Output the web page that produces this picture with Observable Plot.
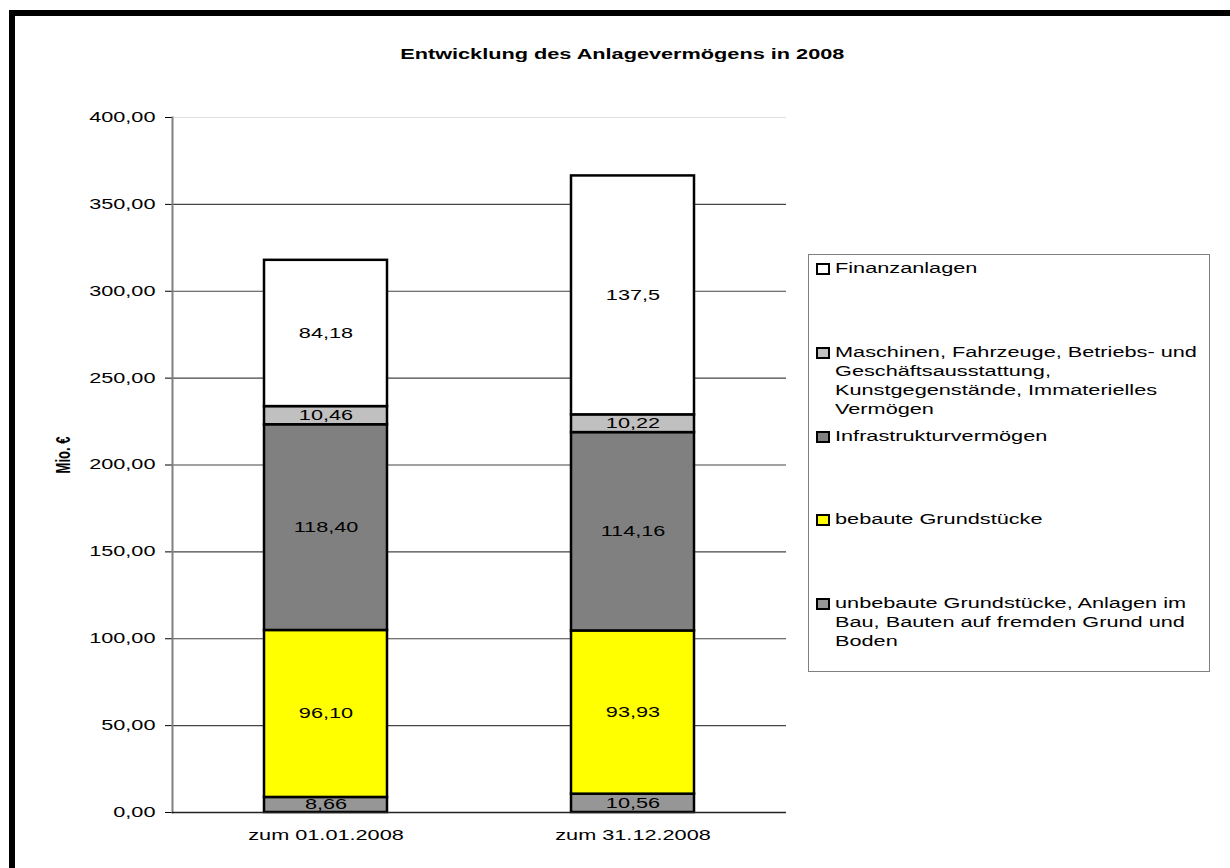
<!DOCTYPE html>
<html>
<head>
<meta charset="utf-8">
<script src="https://cdn.jsdelivr.net/npm/d3@7"></script>
<script src="https://cdn.jsdelivr.net/npm/@observablehq/plot@0.6"></script>
<style>
  html, body { margin: 0; padding: 0; background: #fff; }
  #wrap { position: relative; width: 1230px; height: 868px; overflow: hidden; font-family: "Liberation Sans", Arial, sans-serif; }
  #frame { position: absolute; left: 9px; top: 10px; right: -20px; bottom: -20px; border-left: 6px solid #000; border-top: 6px solid #000; }
  #title { position: absolute; left: 0; width: 1244px; top: 47px; text-align: center; font-size: 14px; line-height: 14px; font-weight: bold; color: #000; }
  #title span { display: inline-block; transform: scaleX(1.55); transform-origin: center; }
  #chart { position: absolute; left: 0; top: 0; }
  #chart g[aria-label="y-axis label"] text { font-weight: bold; font-size: 13px; }
  #legend { position: absolute; left: 808px; top: 254px; width: 402px; height: 418px; border: 1px solid #808080; box-sizing: border-box; padding-top: 4px; font-size: 14px; color: #000; }
  .item { position: relative; height: 83.75px; box-sizing: border-box; }
  .sw { position: absolute; left: 7px; top: 4px; width: 10px; height: 8px; border: 2px solid #000; }
  .txt { position: absolute; left: 26px; top: 0; width: 240px; line-height: 19px; transform: scaleX(1.55); transform-origin: left top; }
</style>
</head>
<body>
<div id="wrap">
  <div id="frame"></div>
  <div id="title"><span></span></div>
  <div id="chart"></div>
  <div id="legend"></div>
</div>
<script>
const title = "Entwicklung des Anlagevermögens in 2008";
const categories = ["zum 01.01.2008", "zum 31.12.2008"];
// series, bottom to top
const series = [
  "unbebaute Grundstücke, Anlagen im Bau, Bauten auf fremden Grund und Boden",
  "bebaute Grundstücke",
  "Infrastrukturvermögen",
  "Maschinen, Fahrzeuge, Betriebs- und Geschäftsausstattung, Kunstgegenstände, Immaterielles Vermögen",
  "Finanzanlagen"
];
const colors = ["#969696", "#FFFF00", "#808080", "#C0C0C0", "#FFFFFF"];
const values2008start = [8.66, 96.10, 118.40, 10.46, 84.18];
const values2008end = [10.56, 93.93, 114.16, 10.22, 137.5];
const labels2008start = ["8,66", "96,10", "118,40", "10,46", "84,18"];
const labels2008end = ["10,56", "93,93", "114,16", "10,22", "137,5"];
const yTicks = [0, 50, 100, 150, 200, 250, 300, 350, 400];
const yLabel = "Mio. €";

const K = 1.55; // horizontal text stretch seen in the reference

const allValues = [values2008start, values2008end];
const allLabels = [labels2008start, labels2008end];
const data = [];
categories.forEach((c, i) => {
  series.forEach((s, j) => {
    data.push({cat: c, series: s, value: allValues[i][j], label: allLabels[i][j]});
  });
});

const fmt = d => d3.format(".2f")(d).replace(".", ",");

const chart = Plot.plot({
  width: 1230,
  height: 868,
  marginLeft: 172,
  marginRight: 444,
  marginTop: 117,
  marginBottom: 56,
  style: {fontFamily: "'Liberation Sans', Arial, sans-serif", fontSize: "14px", color: "#000", background: "transparent"},
  x: {domain: categories, paddingInner: 0.6, paddingOuter: 0.3, label: null, tickSize: 0, tickPadding: 18},
  y: {domain: [0, 400], ticks: yTicks, tickFormat: fmt, tickSize: 7, tickPadding: 10,
      label: yLabel, labelAnchor: "center", labelArrow: "none", labelOffset: 117},
  color: {domain: series, range: colors},
  marks: [
    Plot.ruleY(yTicks.filter(d => d > 0 && d < 400), {stroke: "#444", strokeWidth: 1.2}),
    Plot.ruleY(yTicks.filter(d => d === 400), {stroke: "#e0e0e0", strokeWidth: 1.2}),
    Plot.barY(data, {x: "cat", y: "value", fill: "series", stroke: "#000", strokeWidth: 2.5}),
    Plot.text(data, Plot.stackY({x: "cat", y: "value", text: "label", fill: "#000", fontSize: 14})),
    Plot.frame({anchor: "left", stroke: "#808080", strokeWidth: 2}),
    Plot.ruleY([0], {stroke: "#222", strokeWidth: 1.5})
  ]
});
document.getElementById("chart").appendChild(chart);

// stretch all SVG text horizontally around its anchor, as in the reference
chart.querySelectorAll("text").forEach(t => {
  const x = +t.getAttribute("x") || 0, y = +t.getAttribute("y") || 0;
  const tr = t.getAttribute("transform") || "";
  const ptr = (t.parentNode && t.parentNode.getAttribute && t.parentNode.getAttribute("transform")) || "";
  const rotated = /rotate/.test(tr) || /rotate/.test(ptr);
  const s = rotated ? `translate(10,0) scale(1,${K})` : `scale(${K},1)`;
  t.setAttribute("transform", `${tr} translate(${x},${y}) ${s} translate(${-x},${-y})`);
});

document.querySelector("#title span").textContent = title;

const legend = document.getElementById("legend");
series.slice().reverse().forEach(s => {
  const idx = series.indexOf(s);
  const item = document.createElement("div");
  item.className = "item";
  const sw = document.createElement("div");
  sw.className = "sw";
  sw.style.background = colors[idx];
  item.appendChild(sw);
  const t = document.createElement("div");
  t.className = "txt";
  t.textContent = s;
  item.appendChild(t);
  legend.appendChild(item);
});
</script>
</body>
</html>
